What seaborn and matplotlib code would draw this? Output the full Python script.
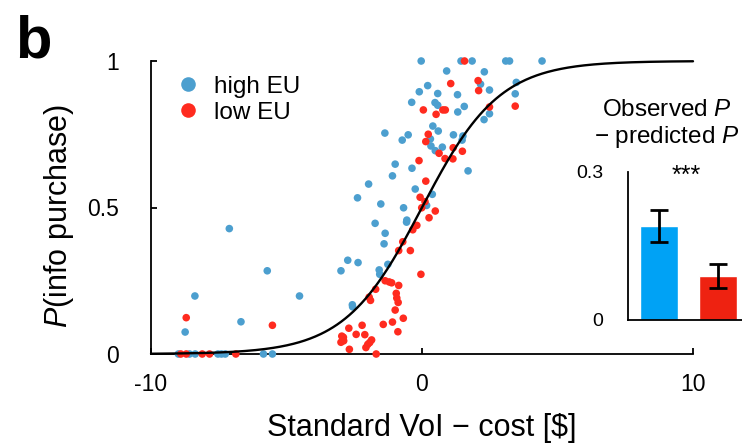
import numpy as np
import pandas as pd
import matplotlib
matplotlib.use('Agg')
import matplotlib.pyplot as plt
from matplotlib.lines import Line2D
import seaborn as sns

sns.set_style('ticks')
plt.rcParams['font.family'] = ['Liberation Sans', 'DejaVu Sans']
plt.rcParams['mathtext.fontset'] = 'custom'
plt.rcParams['mathtext.it'] = 'Liberation Sans:italic'
plt.rcParams['mathtext.rm'] = 'Liberation Sans'
for k in ['text.color', 'axes.labelcolor', 'xtick.color', 'ytick.color', 'axes.edgecolor']:
    plt.rcParams[k] = 'black'

# DATA
high_x = [-0.03, 0.21, -0.10, 0.58, -0.38, 0.48, 0.58, -1.37, -0.73, -0.51,
          0.40, 0.60, 0.31, 0.33, 0.49, 0.75, -0.99, -0.37, -1.09, -1.97,
          -0.25, 0.38, -2.38, -1.52, -0.68, 0.17, -0.56, 1.44, 1.85, 3.09,
          3.23, 4.43, 0.91, 2.30, 2.16, 2.49, 3.48, 3.44, 1.31, 1.56,
          1.32, 2.49, 2.29, 1.16, 1.51, 1.48, 1.70, -1.73, -0.57, -1.36,
          -1.40, -7.11, -2.74, -2.36, -1.26, -2.99, -5.71, -1.58, -1.56, -8.38,
          -4.52, -2.57, -2.56, -6.68, -8.74, -8.99, -8.58, -8.37, -7.53, -7.40,
          -7.26, -5.85, -5.52]
high_p = [1.00, 0.916, 0.895, 0.889, 0.859, 0.858, 0.849, 0.754, 0.730, 0.748,
          0.778, 0.761, 0.734, 0.710, 0.694, 0.706, 0.648, 0.634, 0.608, 0.580,
          0.563, 0.545, 0.533, 0.512, 0.499, 0.507, 0.457, 1.0, 1.0, 1.0,
          1.0, 1.0, 0.966, 0.963, 0.921, 0.901, 0.927, 0.888, 0.885, 0.845,
          0.826, 0.820, 0.800, 0.748, 0.744, 0.730, 0.625, 0.446, 0.450, 0.412,
          0.376, 0.428, 0.320, 0.312, 0.306, 0.284, 0.284, 0.287, 0.272, 0.198,
          0.198, 0.168, 0.161, 0.110, 0.075, 0, 0, 0, 0, 0,
          0, 0, 0]

low_x = [1.57, 1.06, 2.07, 2.09, 0.05, 0.77, 0.86, 0.52, 2.49, 3.44,
         0.23, 0.14, 0.63, 1.15, 1.49, 0.85, 1.14, -0.11, 0.14, -0.07,
         -0.01, 0.11, 0.49, 0.26, -0.19, -0.34, -0.71, -0.86, -0.43, -0.04,
         -1.36, -1.21, -1.12, -0.86, -1.71, -0.95, -0.93, -0.88, -1.95, -1.90,
         -0.99, -8.70, -5.52, -0.69, -1.09, -1.43, -2.21, -2.70, -0.89, -2.43,
         -2.11, -2.96, -2.90, -2.99, -2.89, -1.86, -1.93, -2.00, -2.68, -2.07,
         -1.69, -8.90, -8.70, -8.11, -7.84, -6.87]
low_p = [1.0, 0.923, 0.933, 0.899, 0.833, 0.833, 0.833, 0.818, 0.843, 0.846,
         0.750, 0.725, 0.685, 0.704, 0.692, 0.667, 0.666, 0.660, 0.590, 0.535,
         0.499, 0.520, 0.488, 0.465, 0.439, 0.424, 0.383, 0.353, 0.353, 0.272,
         0.250, 0.246, 0.243, 0.234, 0.221, 0.207, 0.191, 0.176, 0.194, 0.183,
         0.150, 0.124, 0.098, 0.122, 0.109, 0.101, 0.098, 0.088, 0.076, 0.067,
         0.066, 0.061, 0.057, 0.040, 0.045, 0.048, 0.039, 0.033, 0.016, 0.022,
         0, 0, 0, 0, 0, 0]

# logistic fit
fit_slope = 0.70
fit_mid = 0.0

bar_groups = ['high EU', 'low EU']
bar_vals = [0.190, 0.089]
bar_err = [0.033, 0.024]

dot_colors = {'high EU': '#4C9FCF', 'low EU': '#FF2B1F'}
bar_colors = ['#00A2F5', '#EE2211']

df = pd.concat([
    pd.DataFrame({'x': high_x, 'p': high_p, 'group': 'high EU'}),
    pd.DataFrame({'x': low_x, 'p': low_p, 'group': 'low EU'}),
])

fig = plt.figure(figsize=(7.42, 4.46), dpi=100)
ax = fig.add_axes([151 / 742, 92 / 446, 542 / 742, 293 / 446])

sns.scatterplot(data=df, x='x', y='p', hue='group', palette=dot_colors,
                s=30, linewidth=0, legend=False, ax=ax, clip_on=False, zorder=3)

xx = np.linspace(-10, 10, 400)
ax.plot(xx, 1 / (1 + np.exp(-fit_slope * (xx - fit_mid))), color='black',
        lw=1.7, zorder=4, clip_on=False)

ax.set_xlim(-10, 10)
ax.set_ylim(0, 1)
ax.set_xticks([-10, 0, 10])
ax.set_xticklabels(['-10', '0', '10'])
ax.set_yticks([0, 0.5, 1])
ax.set_yticklabels(['0', '0.5', '1'])
ax.tick_params(axis='both', direction='in', length=4, width=1.3, labelsize=16.5)
ax.tick_params(axis='x', pad=14)
ax.tick_params(axis='y', pad=23)
sns.despine(ax=ax)
for s in ['left', 'bottom']:
    ax.spines[s].set_linewidth(1.3)

ax.set_xlabel('Standard VoI \u2212 cost [$]', fontsize=22)
ax.set_ylabel('$P$(info purchase)', fontsize=22)
ax.xaxis.set_label_coords(0.5, -0.2)
ax.yaxis.set_label_coords(-0.139, 0.47)

handles = [Line2D([], [], ls='none', marker='o', markersize=10.5,
                  markerfacecolor=dot_colors[g], markeredgewidth=0) for g in bar_groups]
ax.legend(handles, bar_groups, loc='upper left', bbox_to_anchor=(0.05, 0.95),
          frameon=False, fontsize=17.5, handlelength=0.8, handletextpad=0.67,
          labelspacing=0.17, borderpad=0, borderaxespad=0)

# INSET: observed - predicted
ins = fig.add_axes([628.3 / 742, 126 / 446, 113.7 / 742, 148.3 / 446])
sns.barplot(x=bar_groups, y=bar_vals, hue=bar_groups, palette=bar_colors,
            saturation=1, width=0.64, legend=False, ax=ins)
ins.errorbar([0, 1], bar_vals, yerr=bar_err, fmt='none', ecolor='black',
             elinewidth=2, capsize=6.5, capthick=2)
ins.set_xlim(-0.52, 1.41)
ins.set_ylim(0, 0.3)
ins.set_yticks([0, 0.3])
ins.set_yticklabels(['0', '0.3'])
ins.set_xticks([])
ins.tick_params(axis='y', length=0, labelsize=14, pad=18)
ins.set_xlabel('')
ins.set_ylabel('')
ins.patch.set_alpha(0)
sns.despine(ax=ins)
for s in ['left', 'bottom']:
    ins.spines[s].set_linewidth(1.3)
ins.text(0.47, 0.292, '***', ha='center', va='center', fontsize=18)

fig.text(666.7 / 742, 1 - 110 / 446, 'Observed $P$', ha='center', va='center', fontsize=17.5)
fig.text(666.7 / 742, 1 - 137 / 446, '\u2212 predicted $P$', ha='center', va='center', fontsize=17.5)

fig.text(15 / 742, 1 - 57 / 446, 'b', fontsize=43, fontweight='bold', ha='left', va='baseline')

fig.savefig('out.png', dpi=100)
